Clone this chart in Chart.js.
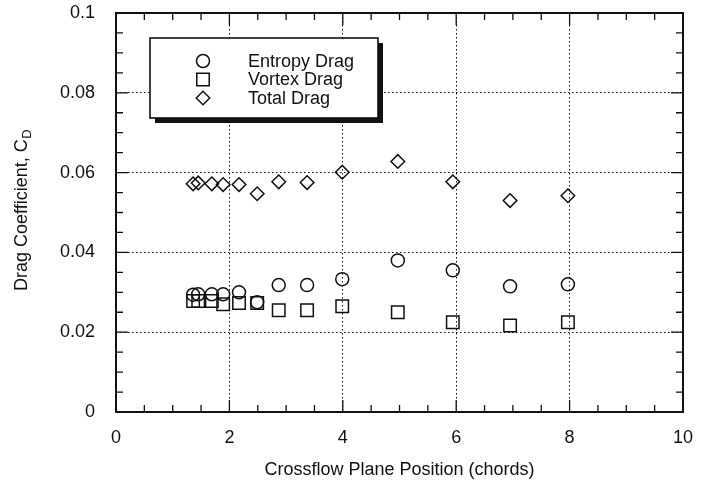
<!DOCTYPE html>
<html>
<head>
<meta charset="utf-8">
<script src="https://cdn.jsdelivr.net/npm/chart.js@4/dist/chart.umd.min.js"></script>
<style>
  html, body { margin: 0; padding: 0; background: #fff; }
  #wrap { width: 701px; height: 483px; }
</style>
</head>
<body>
<div id="wrap"><canvas id="c" width="701" height="483"></canvas></div>
<script>
// Crossflow plane positions (chords)
const positions = [1.36, 1.45, 1.69, 1.89, 2.17, 2.49, 2.87, 3.37, 3.99, 4.97, 5.94, 6.95, 7.97];
// Drag coefficients at each plane
const entropyDrag = [0.0294, 0.0295, 0.0295, 0.0295, 0.0300, 0.0275, 0.0318, 0.0318, 0.0333, 0.0380, 0.0355, 0.0315, 0.0320];
const vortexDrag  = [0.0278, 0.0278, 0.0278, 0.0270, 0.0273, 0.0273, 0.0255, 0.0255, 0.0265, 0.0250, 0.0225, 0.0217, 0.0225];
const totalDrag   = [0.0572, 0.0574, 0.0572, 0.0570, 0.0570, 0.0547, 0.0577, 0.0575, 0.0601, 0.0628, 0.0577, 0.0530, 0.0542];
const seriesNames = ['Entropy Drag', 'Vortex Drag', 'Total Drag'];
const xTickValues = [0, 2, 4, 6, 8, 10];
const yTickValues = [0, 0.02, 0.04, 0.06, 0.08, 0.1];

const FONT = '"Liberation Sans", Arial, Helvetica, sans-serif';
const INK = '#111';

const toPoints = ys => positions.map((x, i) => ({ x, y: ys[i] }));

const markerStyles = [
  { pointStyle: 'circle', radius: 6.5 },
  { pointStyle: 'rect', radius: 8.8 },
  { pointStyle: 'rectRot', radius: 6.8 }
];

function drawMarker(ctx, style, x, y) {
  ctx.beginPath();
  const r = style.radius;
  if (style.pointStyle === 'circle') {
    ctx.arc(x, y, r, 0, Math.PI * 2);
  } else if (style.pointStyle === 'rect') {
    const s = r * Math.SQRT1_2;
    ctx.rect(x - s, y - s, 2 * s, 2 * s);
  } else {
    ctx.moveTo(x - r, y); ctx.lineTo(x, y - r); ctx.lineTo(x + r, y); ctx.lineTo(x, y + r); ctx.closePath();
  }
  ctx.stroke();
}

// Inward tick marks on all four sides plus the solid frame
const framePlugin = {
  id: 'frame',
  afterDatasetsDraw(chart) {
    const { ctx, chartArea: a, scales: { x, y } } = chart;
    ctx.save();
    ctx.strokeStyle = INK;
    ctx.lineWidth = 1.3;
    ctx.beginPath();
    for (let k = 0; k <= 20; k++) {
      const px = x.getPixelForValue(k * 0.5);
      const len = k % 4 === 0 ? 12 : 7;
      ctx.moveTo(px, a.bottom); ctx.lineTo(px, a.bottom - len);
      ctx.moveTo(px, a.top); ctx.lineTo(px, a.top + len);
    }
    for (let k = 0; k <= 20; k++) {
      const py = y.getPixelForValue(k * 0.005);
      const len = k % 4 === 0 ? 12 : 7;
      ctx.moveTo(a.left, py); ctx.lineTo(a.left + len, py);
      ctx.moveTo(a.right, py); ctx.lineTo(a.right - len, py);
    }
    ctx.stroke();
    ctx.lineWidth = 2;
    ctx.strokeRect(a.left, a.top, a.right - a.left, a.bottom - a.top);
    ctx.restore();
  }
};

// Boxed legend with a drop shadow, inside the plot area
const legendBoxPlugin = {
  id: 'legendBox',
  afterDraw(chart) {
    const { ctx } = chart;
    const bx = 150, by = 38, bw = 228, bh = 80;
    ctx.save();
    ctx.fillStyle = INK;
    ctx.fillRect(bx + 5, by + 5, bw, bh);
    ctx.fillStyle = '#fff';
    ctx.fillRect(bx, by, bw, bh);
    ctx.strokeStyle = INK;
    ctx.lineWidth = 1.6;
    ctx.strokeRect(bx, by, bw, bh);
    ctx.font = '18px ' + FONT;
    ctx.textBaseline = 'middle';
    ctx.textAlign = 'left';
    chart.data.datasets.forEach((ds, i) => {
      const yy = 61 + i * 18.5;
      ctx.lineWidth = 1.5;
      drawMarker(ctx, markerStyles[i], 203, yy);
      ctx.fillStyle = INK;
      ctx.fillText(ds.label, 248, yy + 1);
    });
    ctx.restore();
  }
};

// Vertical axis title with a subscript
const yTitlePlugin = {
  id: 'yTitle',
  afterDraw(chart) {
    const { ctx, chartArea: a } = chart;
    const main = 'Drag Coefficient, C';
    const sub = 'D';
    ctx.save();
    ctx.fillStyle = INK;
    ctx.font = '18px ' + FONT;
    const wMain = ctx.measureText(main).width;
    ctx.font = '13px ' + FONT;
    const wSub = ctx.measureText(sub).width;
    const total = wMain + wSub;
    ctx.translate(20, (a.top + a.bottom) / 2 - 2);
    ctx.rotate(-Math.PI / 2);
    ctx.textBaseline = 'alphabetic';
    ctx.textAlign = 'left';
    ctx.font = '18px ' + FONT;
    ctx.fillText(main, -total / 2, 6.5);
    ctx.font = '13px ' + FONT;
    ctx.fillText(sub, -total / 2 + wMain + 0.5, 11);
    ctx.restore();
  }
};

const datasets = [entropyDrag, vortexDrag, totalDrag].map((vals, i) => ({
  label: seriesNames[i],
  data: toPoints(vals),
  showLine: false,
  pointStyle: markerStyles[i].pointStyle,
  pointRadius: markerStyles[i].radius,
  pointHoverRadius: markerStyles[i].radius,
  pointBorderWidth: 1.5,
  pointBorderColor: INK,
  pointBackgroundColor: 'rgba(0,0,0,0)'
}));

new Chart(document.getElementById('c'), {
  type: 'scatter',
  data: { datasets },
  options: {
    responsive: false,
    animation: false,
    events: [],
    layout: { padding: { left: 0, right: 18, top: 13, bottom: 0 } },
    plugins: {
      legend: { display: false },
      tooltip: { enabled: false }
    },
    scales: {
      x: {
        type: 'linear',
        min: 0, max: 10,
        afterFit: s => { s.height = 71; s.paddingLeft = 0; s.paddingRight = 0; },
        afterBuildTicks: s => { s.ticks = xTickValues.map(v => ({ value: v })); },
        grid: { color: INK, lineWidth: 1, drawTicks: false },
        border: { display: false, dash: [1.5, 2.5] },
        ticks: {
          color: INK, padding: 15,
          font: { family: FONT, size: 18 },
          callback: v => String(v)
        },
        title: {
          display: true,
          text: 'Crossflow Plane Position (chords)',
          color: INK,
          font: { family: FONT, size: 18 },
          padding: { top: 0, bottom: 2 }
        }
      },
      y: {
        type: 'linear',
        min: 0, max: 0.1,
        afterFit: s => { s.width = 116; s.paddingTop = 0; s.paddingBottom = 0; },
        afterBuildTicks: s => { s.ticks = yTickValues.map(v => ({ value: v })); },
        grid: { color: INK, lineWidth: 1, drawTicks: false },
        border: { display: false, dash: [1.5, 2.5] },
        ticks: {
          color: INK, padding: 21,
          font: { family: FONT, size: 18 },
          callback: v => String(v)
        }
      }
    }
  },
  plugins: [framePlugin, legendBoxPlugin, yTitlePlugin]
});
</script>
</body>
</html>
